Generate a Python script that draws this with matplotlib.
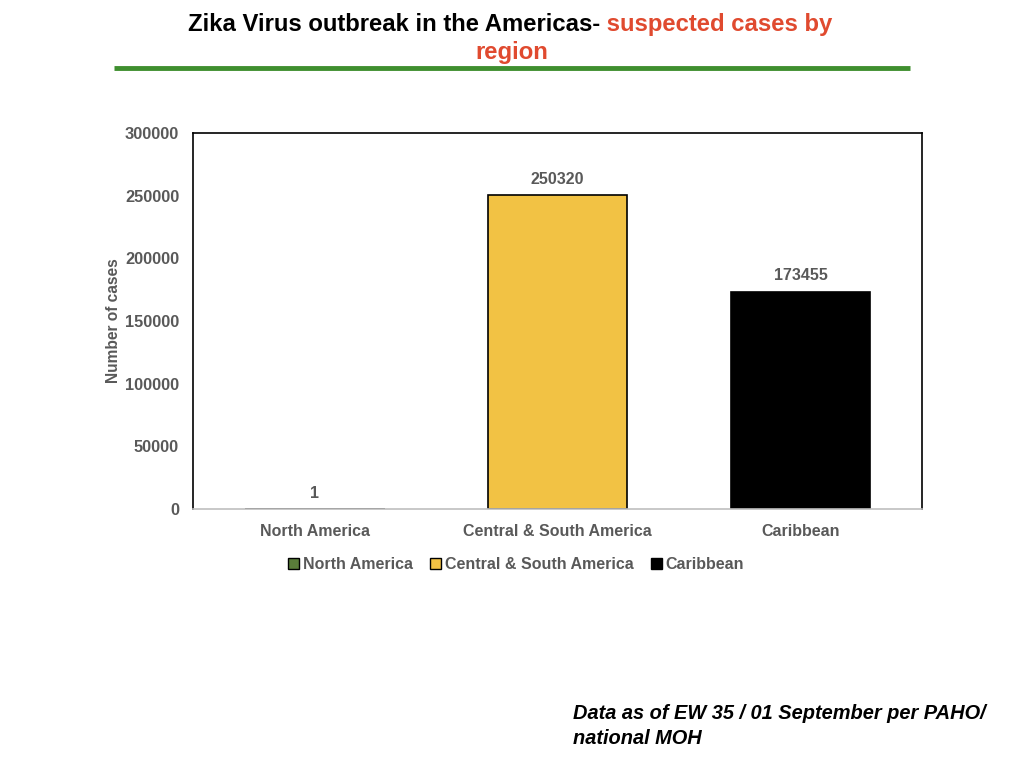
import matplotlib
matplotlib.use("Agg")
import matplotlib.pyplot as plt
from matplotlib.patches import Patch
from matplotlib.lines import Line2D

# data
regions = ["North America", "Central & South America", "Caribbean"]
cases = [1, 250320, 173455]
colors = ["#5a7d3a", "#f2c244", "#000000"]
yticks = [0, 50000, 100000, 150000, 200000, 250000, 300000]

gray = "#595959"
plt.rcParams["font.family"] = ["Liberation Sans", "DejaVu Sans"]

fig = plt.figure(figsize=(10.24, 7.68), dpi=100)
ax = fig.add_axes([0.1885, 0.3372, 0.7119, 0.4896])

x = list(range(len(regions)))
bars = ax.bar(x, cases, width=0.576, color=colors, edgecolor="black", linewidth=1.2)
ax.set_xlim(-0.5, len(regions) - 0.5)
ax.set_ylim(0, 300000)
ax.set_yticks(yticks)
ax.set_yticklabels([str(v) for v in yticks], fontsize=11.8, fontweight="bold", color=gray)
ax.set_xticks(x)
ax.set_xticklabels(regions, fontsize=11.5, fontweight="bold", color=gray)
ax.tick_params(axis="y", length=0, pad=10)
ax.tick_params(axis="x", length=0, pad=11)
ax.set_ylabel("Number of cases", fontsize=11.2, fontweight="bold", color=gray, labelpad=3)

for s in ["left", "top", "right"]:
    ax.spines[s].set_color("black")
    ax.spines[s].set_linewidth(1.2)
ax.spines["bottom"].set_color("#bfbfbf")
ax.spines["bottom"].set_linewidth(1.2)

for b, v in zip(bars, cases):
    ax.annotate(str(v), (b.get_x() + b.get_width() / 2, v), xytext=(0, 6),
                textcoords="offset points", ha="center", va="bottom",
                fontsize=11.5, fontweight="bold", color=gray)

handles = [Patch(facecolor=c, edgecolor="black", linewidth=1.0) for c in colors]
ax.legend(handles, regions, loc="upper center", bbox_to_anchor=(0.443, -0.09), ncol=3,
          frameon=False, handlelength=0.7, handleheight=0.7,
          handletextpad=0.2, columnspacing=1.1, labelcolor=gray,
          prop={"weight": "bold", "size": 11.5})

# title, two colours on the first line
tfont = dict(fontsize=17.2, fontweight="bold")
t1 = fig.text(188 / 1024, 1 - 31 / 768, "Zika Virus outbreak in the Americas-", color="black",
              ha="left", va="baseline", **tfont)
ax.annotate(" suspected cases by", xy=(1, 0), xycoords=t1, ha="left", va="bottom",
            color="#e04a2f", annotation_clip=False, **tfont)
fig.text(0.5, 1 - 59 / 768, "region", color="#e04a2f", ha="center", va="baseline", **tfont)

fig.add_artist(Line2D([114 / 1024, 910 / 1024], [1 - 68 / 768, 1 - 68 / 768],
                      color="#3f8f2f", linewidth=3.5, solid_capstyle="butt"))

fnote = dict(ha="left", va="baseline", fontsize=14.4, fontweight="bold", style="italic", color="black")
fig.text(573 / 1024, 1 - 719 / 768, "Data as of EW 35 / 01 September per PAHO/", **fnote)
fig.text(573 / 1024, 1 - 744 / 768, "national MOH", **fnote)

fig.savefig("out.png", dpi=100)
